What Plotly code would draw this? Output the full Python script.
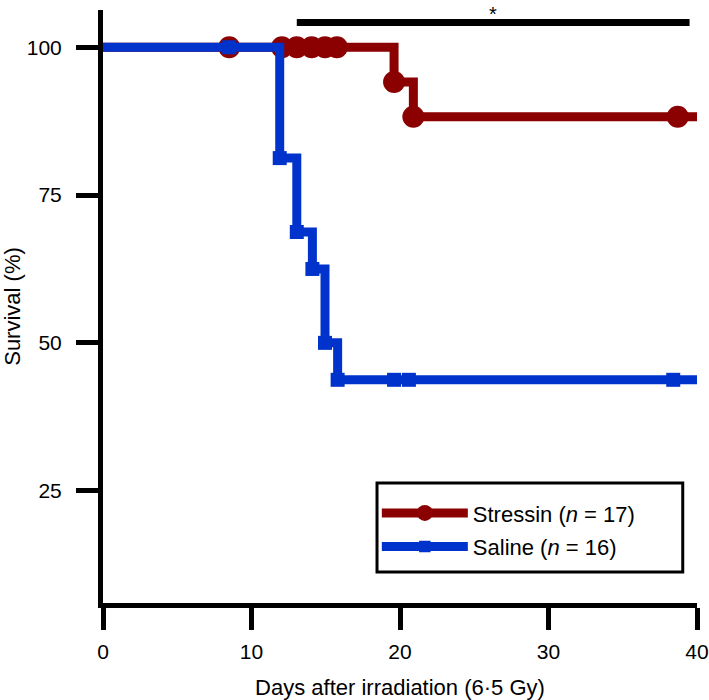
import plotly.graph_objects as go

# Kaplan-Meier data (days, % survival)
stressin_days = [0, 8.5, 12.05, 13.05, 14.05, 14.95, 15.75, 19.6, 20.9, 38.7, 40]
stressin_surv = [100, 100, 100, 100, 100, 100, 100, 94.12, 88.24, 88.24, 88.24]
stressin_mark = [0, 1, 1, 1, 1, 1, 1, 1, 1, 1, 0]

saline_days = [0, 8.5, 11.9, 13.05, 14.1, 14.95, 15.8, 19.6, 20.6, 38.4, 40]
saline_surv = [100, 100, 81.25, 68.75, 62.5, 50, 43.75, 43.75, 43.75, 43.75, 43.75]
saline_mark = [0, 1, 1, 1, 1, 1, 1, 1, 1, 1, 0]

x_ticks = [0, 10, 20, 30, 40]
y_ticks = [25, 50, 75, 100]

sig_bar_days = [13.05, 39.5]
sig_label = "*"

RED = '#8B0000'
BLUE = '#0033CC'
FONT = 'Arial, Liberation Sans, sans-serif'
TICK_FONT = dict(family=FONT, size=21, color='black')

fig = go.Figure()

fig.add_trace(go.Scatter(
    x=stressin_days, y=stressin_surv,
    mode='lines+markers', line_shape='hv',
    name='Stressin (<i>n</i> = 17)', legendgroup='a',
    line=dict(color=RED, width=9),
    marker=dict(symbol='circle', color=RED, opacity=1, line=dict(width=0),
                size=[22 * m for m in stressin_mark]),
    cliponaxis=False,
))

fig.add_trace(go.Scatter(
    x=saline_days, y=saline_surv,
    mode='lines+markers', line_shape='hv',
    name='Saline (<i>n</i> = 16)', legendgroup='b',
    line=dict(color=BLUE, width=9),
    marker=dict(symbol='square', color=BLUE, opacity=1, line=dict(width=0),
                size=[14 * m for m in saline_mark]),
    cliponaxis=False,
))

# significance bar
fig.add_shape(type='line', xref='x', yref='y',
              x0=sig_bar_days[0], x1=sig_bar_days[1], y0=104.2, y1=104.2,
              line=dict(color='black', width=7))
fig.add_annotation(x=sum(sig_bar_days) / 2, y=105.6, xref='x', yref='y',
                   text=sig_label, showarrow=False, yanchor='middle',
                   font=dict(size=20, color='black', family=FONT))

# legend frame (wider than plotly's own legend box)
fig.add_shape(type='rect', xref='paper', yref='paper', layer='above',
              x0=0.4613, x1=0.976, y0=0.0523, y1=0.2024,
              fillcolor='white', line=dict(color='black', width=3))

fig.update_layout(
    width=709, height=700,
    paper_bgcolor='white', plot_bgcolor='white',
    font=dict(family=FONT, size=18, color='black'),
    margin=dict(l=103, r=12, t=10, b=97),
    legend=dict(x=0.461, y=0.187, xanchor='left', yanchor='top',
                bgcolor='rgba(0,0,0,0)', borderwidth=0,
                font=dict(size=22), itemwidth=86,
                traceorder='grouped', tracegroupgap=2),
    showlegend=True,
)
fig.update_xaxes(range=[0, 40], tickvals=x_ticks, ticks='outside', ticklen=22, tickwidth=5,
                 tickcolor='black', showline=True, linewidth=5, linecolor='black',
                 showgrid=False, zeroline=False, automargin=False, ticklabelstandoff=4,
                 tickfont=TICK_FONT,
                 title=dict(text='Days after irradiation (6·5 Gy)', standoff=24))
fig.update_yaxes(range=[6, 106.3], tickvals=y_ticks, ticks='outside', ticklen=22, tickwidth=5,
                 tickcolor='black', showline=True, linewidth=5, linecolor='black',
                 showgrid=False, zeroline=False, automargin=False, ticklabelstandoff=10,
                 tickfont=TICK_FONT,
                 title=dict(text='Survival (%)', standoff=10))

# drop the default 8px body margin so the chart fills the window
fig.write_html("out.html", post_script="document.body.style.margin='0';",
               config={'displayModeBar': False})
